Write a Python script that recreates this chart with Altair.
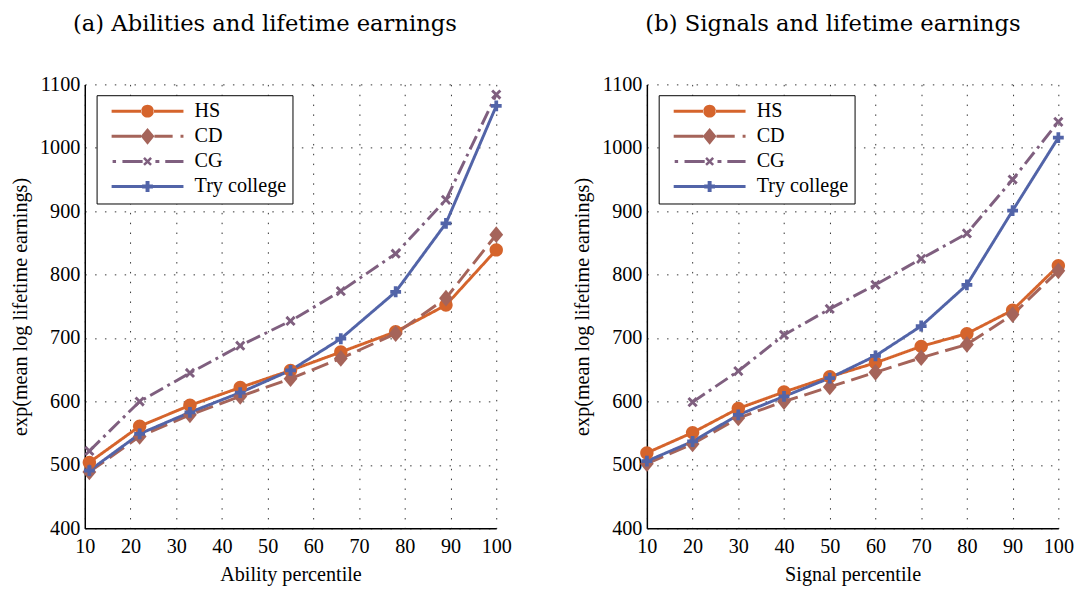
import altair as alt
import pandas as pd

# ---------------- data ----------------
series = ["HS", "CD", "CG", "Try college"]

ability_pct = [11, 22, 33, 44, 55, 66, 78, 89, 100]
hs_a = [504, 561, 594, 622, 649, 678, 710, 752, 839]
cd_a = [489, 545, 579, 608, 636, 668, 707, 763, 863]
cg_a = [522, 600, 645, 688, 727, 774, 833, 918, 1084]
try_a = [491, 549, 583, 614, 649, 699, 773, 881, 1066]

signal_pct = [10, 20, 30, 40, 50, 60, 70, 80, 90, 100]
hs_b = [519, 551, 589, 615, 639, 661, 687, 707, 744, 814]
cd_b = [502, 533, 574, 600, 623, 646, 669, 690, 737, 806]
cg_b = [None, 599, 648, 705, 746, 784, 825, 865, 950, 1041]
try_b = [506, 537, 579, 608, 637, 672, 719, 784, 901, 1016]

x_ticks = [10, 20, 30, 40, 50, 60, 70, 80, 90, 100]
y_ticks = [400, 500, 600, 700, 800, 900, 1000, 1100]


def frame(xs, cols):
    rows = []
    for name, vals in zip(series, cols):
        for x, v in zip(xs, vals):
            if v is not None:
                rows.append({"pct": x, "val": v, "series": name})
    return pd.DataFrame(rows)


df_a = frame(ability_pct, [hs_a, cd_a, cg_a, try_a])
df_b = frame(signal_pct, [hs_b, cd_b, cg_b, try_b])

# ---------------- styles ----------------
colors = ["#d5642c", "#a5645a", "#7f5f7f", "#5264a8"]
dashes = [[1, 0], [18, 7], [15, 5, 3, 5], [1, 0]]
FONT = "Liberation Serif"
TITLE_FONT = "DejaVu Serif"
FS = 20.5


class Geo:
    """Small SVG-path builder: coordinates given in px, converted to symbol units."""

    def __init__(self, unit, x0):
        self.u = unit
        self.x0 = x0

    def X(self, px):
        return round((px - self.x0) / self.u, 4)

    def Y(self, py):
        return round(py / self.u, 4)

    def rect(self, a, b, t=1.5):
        return f"M{self.X(a)},{self.Y(-t)}H{self.X(b)}V{self.Y(t)}H{self.X(a)}Z"

    def circle(self, c, r):
        x1, x2, rr = self.X(c - r), self.X(c + r), round(r / self.u, 4)
        return f"M{x1},0A{rr},{rr} 0 1 0 {x2},0A{rr},{rr} 0 1 0 {x1},0Z"

    def diamond(self, c, w, h):
        return (f"M{self.X(c - w)},0L{self.X(c)},{self.Y(-h)}"
                f"L{self.X(c + w)},0L{self.X(c)},{self.Y(h)}Z")

    def xmark(self, c, s):
        pts = [(-1, -0.6), (-0.6, -1), (0, -0.4), (0.6, -1), (1, -0.6), (0.4, 0),
               (1, 0.6), (0.6, 1), (0, 0.4), (-0.6, 1), (-1, 0.6), (-0.4, 0)]
        return "M" + "L".join(f"{self.X(c + px * s)},{self.Y(py * s)}" for px, py in pts) + "Z"

    def plus(self, c, a, t):
        X, Y = self.X, self.Y
        return (f"M{X(c - t)},{Y(-a)}H{X(c + t)}V{Y(-t)}H{X(c + a)}V{Y(t)}H{X(c + t)}"
                f"V{Y(a)}H{X(c - t)}V{Y(t)}H{X(c - a)}V{Y(-t)}H{X(c - t)}Z")


# markers on the lines: symbol box 16px (unit 8px), centred
m = Geo(8, 0)
marker_paths = [m.circle(0, 6.8), m.diamond(0, 7, 8.5), m.xmark(0, 5.2), m.plus(0, 5.5, 1.9)]

# legend symbols: line + marker, drawn in px from the left of an 18px symbol box
LS = 18
BLANK = 8
g = Geo(LS / 2, LS / 2 - BLANK)
c = 36.5
legend_paths = [
    g.rect(0, c - 6) + g.circle(c, 6.5) + g.rect(c + 6, 73),
    g.rect(0, c - 6.5) + g.diamond(c, 7, 8.5) + g.rect(c + 7, 62) + g.rect(70, 73),
    g.rect(1, 4.5) + g.rect(11, 31.5) + g.xmark(c, 4.5) + g.rect(44.5, 48.5) + g.rect(54.5, 73),
    g.rect(0, c - 5) + g.plus(c, 5.5, 2) + g.rect(c + 5, 73),
]


def panel(df, xtitle, title, dx):
    xs = alt.X("pct:Q", scale=alt.Scale(domain=[10, 100], nice=False, zero=False),
               axis=alt.Axis(values=x_ticks, format="d", title=xtitle, labelFlush=False,
                             labelPadding=9, titlePadding=7))
    ys = alt.Y("val:Q", scale=alt.Scale(domain=[400, 1100], nice=False, zero=False),
               axis=alt.Axis(values=y_ticks, format="d", title="exp(mean log lifetime earnings)",
                             labelFlush=False, labelPadding=5, titlePadding=9))
    cscale = alt.Scale(domain=series, range=colors)
    base = alt.Chart(df).encode(x=xs, y=ys)

    lines = base.mark_line(strokeWidth=3).encode(
        color=alt.Color("series:N", scale=cscale, legend=None),
        strokeDash=alt.StrokeDash("series:N", scale=alt.Scale(domain=series, range=dashes), legend=None),
        order=alt.Order("pct:Q"),
    )
    pts = base.mark_point(filled=True, size=256, opacity=1).encode(
        color=alt.Color("series:N", scale=cscale, legend=None),
        shape=alt.Shape("series:N", scale=alt.Scale(domain=series, range=marker_paths), legend=None),
    )
    leg = alt.Legend(
        title=None, orient="none", legendX=12, legendY=11,
        fillColor="white", strokeColor="black", padding=6,
        symbolSize=LS * LS, symbolOpacity=1, symbolStrokeWidth=0,
        labelFont=FONT, labelFontSize=FS, labelColor="black", labelOffset=73,
        rowPadding=4.5,
    )
    legend_layer = base.mark_point(filled=True, opacity=0).encode(
        color=alt.Color("series:N", scale=cscale, legend=leg),
        shape=alt.Shape("series:N", scale=alt.Scale(domain=series, range=legend_paths), legend=leg),
    )
    return alt.layer(lines, pts, legend_layer).resolve_scale(
        color="independent", shape="independent"
    ).properties(
        width=418, height=451,
        title=alt.TitleParams(title, font=TITLE_FONT, fontSize=23, fontWeight="normal",
                              color="black", anchor="middle", offset=39, dx=dx),
    )


left = panel(df_a, "Ability percentile", "(a) Abilities and lifetime earnings", -26)
right = panel(df_b, "Signal percentile", "(b) Signals and lifetime earnings", -20)

chart = alt.hconcat(left, right, spacing=56).properties(
    padding={"left": 3, "top": 1, "right": 0, "bottom": 0}, background="white"
).configure_view(
    stroke=None
).configure_axis(
    labelFont=FONT, labelFontSize=FS, labelColor="black",
    titleFont=FONT, titleFontSize=FS, titleFontWeight="normal", titleColor="black",
    domainColor="black", domainWidth=1.5, ticks=False,
    gridColor="#333333", gridDash=[1.5, 8.5], gridWidth=1, gridOpacity=1,
)

chart.save("out.html", embed_options={"renderer": "svg", "actions": False})
